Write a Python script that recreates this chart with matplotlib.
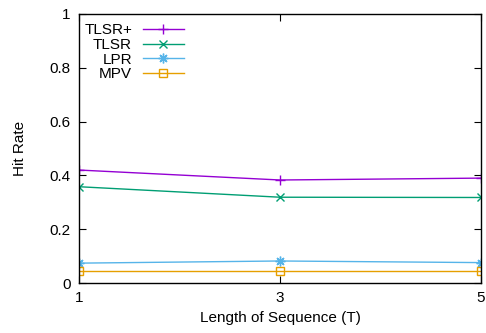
import matplotlib.pyplot as plt

plt.rcParams['font.family'] = ['Liberation Sans', 'DejaVu Sans']

T = [1, 3, 5]
tlsr_plus = [0.42, 0.383, 0.39]
tlsr = [0.358, 0.319, 0.318]
lpr = [0.074, 0.082, 0.076]
mpv = [0.043, 0.043, 0.043]

fig = plt.figure(figsize=(4.86, 3.33), dpi=100)
ax = fig.add_axes([0.1626, 0.150, 0.827, 0.808])

ax.plot(T, tlsr_plus, color='#9400d3', marker='+', ms=7, lw=1, label='TLSR+')
ax.plot(T, tlsr, color='#009e73', marker='x', ms=6, lw=1, label='TLSR')
ax.plot(T, lpr, color='#56b4e9', marker=(8, 2, 0), ms=7, lw=1, label='LPR')
ax.plot(T, mpv, color='#e69f00', marker='s', ms=6, mfc='none', lw=1, label='MPV')

ax.set_xlim(1, 5)
ax.set_ylim(0, 1)
ax.set_xticks(T)
ax.set_xticklabels(['1', '3', '5'])
ax.set_yticks([0, 0.2, 0.4, 0.6, 0.8, 1])
ax.set_yticklabels(['0', '0.2', '0.4', '0.6', '0.8', '1'])
ax.tick_params(direction='in', top=True, right=True, length=5, labelsize=11, pad=6)
for s in ax.spines.values():
    s.set_linewidth(1)

ax.set_xlabel('Length of Sequence (T)', fontsize=11, labelpad=4)
ax.set_ylabel('Hit Rate', fontsize=11, labelpad=16)

ax.legend(loc='upper left', bbox_to_anchor=(-0.01, 1.0), markerfirst=False,
          frameon=False, fontsize=11, handlelength=2.7, labelspacing=0.05,
          borderaxespad=0.2, handletextpad=0.7)

fig.savefig('out.png')
